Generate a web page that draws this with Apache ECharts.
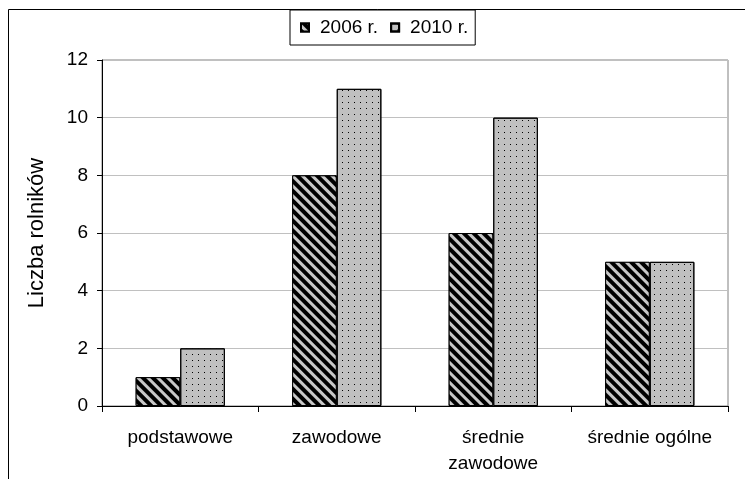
<!DOCTYPE html>
<html>
<head>
<meta charset="utf-8">
<script src="https://cdn.jsdelivr.net/npm/echarts@6/dist/echarts.min.js"></script>
<style>html,body{margin:0;padding:0;background:#fff;}#c{width:745px;height:479px;}</style>
</head>
<body>
<div id="c"></div>
<script>
var categories = ['podstawowe', 'zawodowe', 'średnie\nzawodowe', 'średnie ogólne'];
var seriesNames = ['2006 r.', '2010 r.'];
var values2006 = [1, 8, 6, 5];
var values2010 = [2, 11, 10, 5];
var yTicks = [0, 2, 4, 6, 8, 10, 12];

var FONT = 'Liberation Sans, Arial, sans-serif';
var FS = 19;
var chart = echarts.init(document.getElementById('c'), null, {renderer: 'canvas'});
var stripeDecal = {
  symbol: 'rect', symbolSize: 1, color: '#c8c8c8',
  dashArrayX: [1, 0], dashArrayY: [3, 4], rotation: Math.PI / 4
};
var dotDecal = {
  symbol: 'rect', symbolSize: 1, color: '#000',
  dashArrayX: [1, 5], dashArrayY: [1, 5], rotation: 0
};
chart.setOption({
  animation: false,
  backgroundColor: '#fff',
  textStyle: {fontFamily: FONT, color: '#000'},
  graphic: [{
    type: 'rect', silent: true, z: -10,
    shape: {x: 8.5, y: 9.5, width: 760, height: 500},
    style: {fill: 'none', stroke: '#000', lineWidth: 1}
  }],
  legend: {
    top: 10, left: 290,
    data: seriesNames,
    itemWidth: 8, itemHeight: 8, itemGap: 12,
    padding: [8, 7, 8, 10],
    borderColor: '#000', borderWidth: 1,
    textStyle: {fontFamily: FONT, fontSize: FS, color: '#000', padding: [0, 0, 0, 6]},
    icon: 'rect'
  },
  grid: {left: 102, right: 17, top: 60, bottom: 73, show: true, borderColor: '#808080', borderWidth: 1, containLabel: false},
  xAxis: {
    type: 'category', data: categories,
    axisLine: {lineStyle: {color: '#000', width: 1}},
    axisTick: {show: true, length: 6, lineStyle: {color: '#000'}},
    axisLabel: {fontFamily: FONT, fontSize: FS, color: '#000', margin: 19, lineHeight: 26, interval: 0}
  },
  yAxis: {
    type: 'value', min: yTicks[0], max: yTicks[yTicks.length - 1], interval: 2,
    name: 'Liczba rolników', nameLocation: 'middle', nameRotate: 90, nameGap: 54,
    nameTextStyle: {fontFamily: FONT, fontSize: 22, color: '#000'},
    axisLine: {show: true, lineStyle: {color: '#000', width: 1}},
    axisTick: {show: true, length: 5, lineStyle: {color: '#000'}},
    axisLabel: {fontFamily: FONT, fontSize: FS, color: '#000', margin: 14},
    splitLine: {show: true, lineStyle: {color: '#c0c0c0', width: 1}}
  },
  series: [{
    name: seriesNames[0], type: 'bar', data: values2006,
    barGap: '0%', barCategoryGap: '43%',
    itemStyle: {color: '#000', borderColor: '#000', borderWidth: 1, decal: stripeDecal}
  }, {
    name: seriesNames[1], type: 'bar', data: values2010,
    barGap: '0%', barCategoryGap: '43%',
    itemStyle: {color: '#c0c0c0', borderColor: '#000', borderWidth: 1, decal: dotDecal}
  }]
});
</script>
</body>
</html>
